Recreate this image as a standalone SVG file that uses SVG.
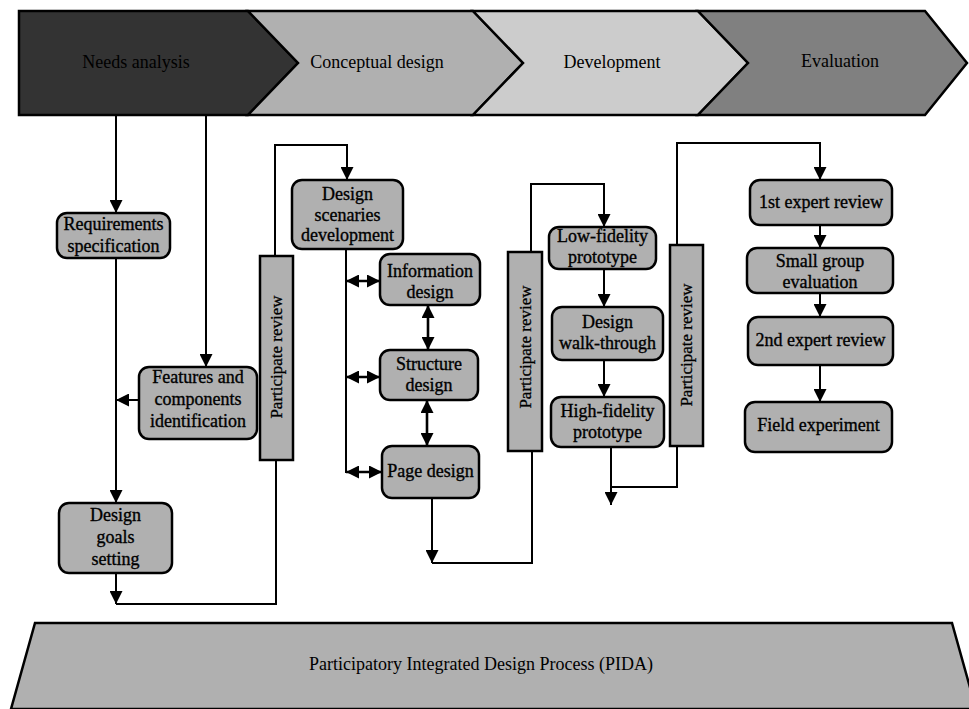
<svg xmlns="http://www.w3.org/2000/svg" width="969" height="709" viewBox="0 0 969 709">
<style>
text{font-family:"Liberation Serif","Times New Roman",serif;fill:#000;text-anchor:middle}
.t{font-size:18px}
.n{stroke:#000;stroke-width:0.35}
.bt{font-size:17px;stroke:#000;stroke-width:0.3}
.box{fill:#b0b0b0;stroke:#000;stroke-width:2.5}
.bar{fill:#b0b0b0;stroke:#000;stroke-width:2.5}
.ph{stroke:#000;stroke-width:2.5;stroke-linejoin:miter}
.c{fill:none;stroke:#000;stroke-width:2}
.a{marker-end:url(#ah)}
.d{fill:none;stroke:#000;stroke-width:2.6;marker-end:url(#ah);marker-start:url(#ah)}
</style>
<defs>
<marker id="ah" viewBox="0 0 13 13" refX="13" refY="6.5" markerWidth="13" markerHeight="13" markerUnits="userSpaceOnUse" orient="auto-start-reverse">
<path d="M0,0 L13,6.5 L0,13 z" fill="#000"/>
</marker>
</defs>
<rect width="969" height="709" fill="#fff"/>

<g id="phases">
<g id="phase-needs">
<polygon class="ph" fill="#333333" points="19,11 248,11 298,63 248,115 19,115"/>
<text class="t" x="136" y="68">Needs analysis</text>
</g>
<g id="phase-conceptual">
<polygon class="ph" fill="#b0b0b0" points="248,11 473,11 523,63 473,115 248,115 298,63"/>
<text class="t" x="377" y="68">Conceptual design</text>
</g>
<g id="phase-development">
<polygon class="ph" fill="#cccccc" points="473,11 698,11 748,63 698,115 473,115 523,63"/>
<text class="t" x="612" y="68">Development</text>
</g>
<g id="phase-evaluation">
<polygon class="ph" fill="#808080" points="698,11 925,11 967,63 925,115 698,115 748,63"/>
<text class="t" x="840" y="67">Evaluation</text>
</g>
</g>

<g id="connectors">
<line class="c a" x1="116" y1="116" x2="116" y2="213"/>
<line class="c a" x1="206" y1="116" x2="206" y2="367"/>
<line class="c a" x1="116" y1="258" x2="116" y2="503"/>
<line class="c a" x1="139" y1="400" x2="116" y2="400"/>
<line class="c a" x1="116" y1="573" x2="116" y2="604"/>
<polyline class="c" points="116,604 276,604 276,460"/>
<polyline class="c a" points="275,256 275,145 347,145 347,180"/>
<line class="c" x1="346" y1="249" x2="346" y2="473"/>
<line class="d" x1="346" y1="281" x2="380" y2="281"/>
<line class="d" x1="346" y1="377" x2="380" y2="377"/>
<line class="d" x1="346" y1="472" x2="382" y2="472"/>
<line class="d" x1="428" y1="305" x2="428" y2="350"/>
<line class="d" x1="427" y1="400" x2="427" y2="446"/>
<line class="c a" x1="432" y1="498" x2="432" y2="563"/>
<polyline class="c" points="432,563 532,563 532,451"/>
<polyline class="c a" points="531,252 531,184 604,184 604,227"/>
<line class="c a" x1="604" y1="269" x2="604" y2="307"/>
<line class="c a" x1="604" y1="360" x2="604" y2="397"/>
<line class="c a" x1="611" y1="447" x2="611" y2="505"/>
<polyline class="c" points="611,487 677,487 677,446"/>
<polyline class="c a" points="677,245 677,143 820,143 820,180"/>
<line class="c a" x1="820" y1="225" x2="820" y2="248"/>
<line class="c a" x1="820" y1="293" x2="820" y2="317"/>
<line class="c a" x1="820" y1="365" x2="820" y2="402"/>
</g>

<g id="n-requirements">
<rect class="box" x="57" y="213" width="113" height="45" rx="10"/>
<text class="t n" x="113.5" y="230">Requirements</text>
<text class="t n" x="113.5" y="252">specification</text>
</g>
<g id="n-features">
<rect class="box" x="139" y="367" width="118" height="72" rx="10"/>
<text class="t n" x="198" y="383">Features and</text>
<text class="t n" x="198" y="405">components</text>
<text class="t n" x="198" y="427">identification</text>
</g>
<g id="n-goals">
<rect class="box" x="59" y="503" width="113" height="70" rx="10"/>
<text class="t n" x="115.5" y="521">Design</text>
<text class="t n" x="115.5" y="543">goals</text>
<text class="t n" x="115.5" y="565">setting</text>
</g>
<g id="bar-review-1">
<rect class="bar" x="260" y="256" width="33" height="204"/>
<text class="bt" transform="translate(282,357) rotate(-90)">Participate review</text>
</g>
<g id="n-scenarios">
<rect class="box" x="292" y="180" width="111" height="69" rx="10"/>
<text class="t n" x="347.5" y="200">Design</text>
<text class="t n" x="347.5" y="221">scenaries</text>
<text class="t n" x="347.5" y="241">development</text>
</g>
<g id="n-information">
<rect class="box" x="380" y="254" width="100" height="51" rx="10"/>
<text class="t n" x="430" y="277">Information</text>
<text class="t n" x="430" y="298">design</text>
</g>
<g id="n-structure">
<rect class="box" x="380" y="350" width="98" height="50" rx="10"/>
<text class="t n" x="429" y="370">Structure</text>
<text class="t n" x="429" y="391">design</text>
</g>
<g id="n-page">
<rect class="box" x="382" y="446" width="97" height="52" rx="10"/>
<text class="t n" x="430.5" y="477">Page design</text>
</g>
<g id="bar-review-2">
<rect class="bar" x="508" y="252" width="34" height="199"/>
<text class="bt" transform="translate(531,347) rotate(-90)">Participate review</text>
</g>
<g id="n-lowfi">
<rect class="box" x="549" y="227" width="107" height="42" rx="10"/>
<text class="t n" x="602.5" y="242">Low-fidelity</text>
<text class="t n" x="602.5" y="263">prototype</text>
</g>
<g id="n-walkthrough">
<rect class="box" x="552" y="307" width="111" height="53" rx="10"/>
<text class="t n" x="607.5" y="328">Design</text>
<text class="t n" x="607.5" y="349">walk-through</text>
</g>
<g id="n-highfi">
<rect class="box" x="551" y="397" width="113" height="50" rx="10"/>
<text class="t n" x="607.5" y="417">High-fidelity</text>
<text class="t n" x="607.5" y="438">prototype</text>
</g>
<g id="bar-review-3">
<rect class="bar" x="670" y="245" width="33" height="201"/>
<text class="bt" transform="translate(692,345) rotate(-90)">Participate review</text>
</g>
<g id="n-expert1">
<rect class="box" x="750" y="180" width="142" height="45" rx="10"/>
<text class="t n" x="821" y="208">1st expert review</text>
</g>
<g id="n-smallgroup">
<rect class="box" x="747" y="248" width="146" height="45" rx="10"/>
<text class="t n" x="820" y="267">Small group</text>
<text class="t n" x="820" y="288">evaluation</text>
</g>
<g id="n-expert2">
<rect class="box" x="748" y="317" width="145" height="48" rx="10"/>
<text class="t n" x="820.5" y="346">2nd expert review</text>
</g>
<g id="n-field">
<rect class="box" x="745" y="402" width="147" height="50" rx="10"/>
<text class="t n" x="818.5" y="431">Field experiment</text>
</g>

<g id="pida">
<polygon fill="#b0b0b0" stroke="#000" stroke-width="2.5" points="35,623 952,623 976,709 11,709"/>
<text class="t" x="481" y="670">Participatory Integrated Design Process (PIDA)</text>
</g>
</svg>
